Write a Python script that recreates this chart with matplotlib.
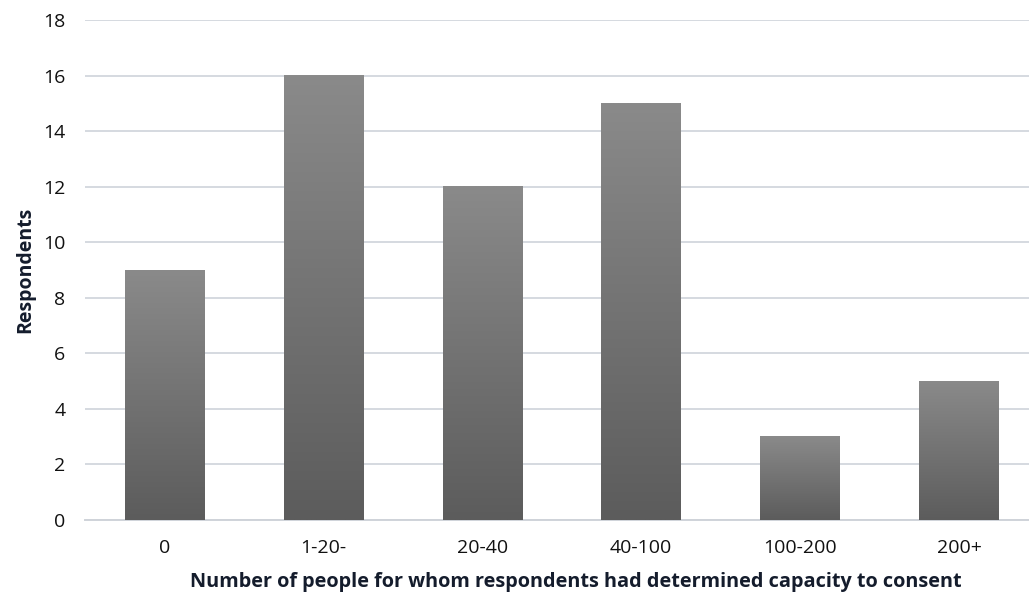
import numpy as np
import matplotlib
matplotlib.use('Agg')
from matplotlib import pyplot as plt
from matplotlib.colors import LinearSegmentedColormap

categories = ['0', '1-20-', '20-40', '40-100', '100-200', '200+']
respondents = [9, 16, 12, 15, 3, 5]

plt.rcParams['font.family'] = ['Open Sans', 'DejaVu Sans']

fig = plt.figure(figsize=(10.29, 5.98), dpi=100)
ax = fig.add_axes([85 / 1029, 1 - 520 / 598, 1 - 85 / 1029, 500 / 598])

x = np.arange(len(categories))
bars = ax.bar(x, respondents, width=0.5, color='none', edgecolor='none', zorder=3)

# vertical gradient inside each bar
cmap = LinearSegmentedColormap.from_list('bargrad', ['#5c5c5c', '#8a8a8a'])
grad = np.linspace(0, 1, 256).reshape(-1, 1)
for b in bars:
    x0, y0 = b.get_x(), b.get_y()
    w, h = b.get_width(), b.get_height()
    ax.imshow(grad, cmap=cmap, origin='lower', aspect='auto',
              extent=[x0, x0 + w, y0, y0 + h], zorder=3)

ax.set_xlim(-0.5, 5.44)
ax.set_ylim(0, 18)
ax.set_yticks(np.arange(0, 19, 2))
ax.set_xticks(x)
ax.set_xticklabels(categories)

ax.grid(axis='y', color='#d5d9e0', linewidth=1.4, zorder=0)
ax.set_axisbelow(True)
for s in ['top', 'right', 'left']:
    ax.spines[s].set_visible(False)
ax.spines['bottom'].set_color('#cfd3d9')
ax.spines['bottom'].set_linewidth(1.4)
ax.tick_params(axis='both', length=0, labelsize=14, colors='#111111')
ax.tick_params(axis='x', pad=14)
ax.tick_params(axis='y', pad=14)

ax.set_xlabel('Number of people for whom respondents had determined capacity to consent',
              fontsize=14.3, fontweight='bold', color='#141c2c', labelpad=11)
ax.xaxis.set_label_coords(0.52, -0.105)
ax.set_ylabel('Respondents', fontsize=14, fontweight='bold', color='#141c2c', labelpad=6)

fig.savefig('out.png', dpi=100)
